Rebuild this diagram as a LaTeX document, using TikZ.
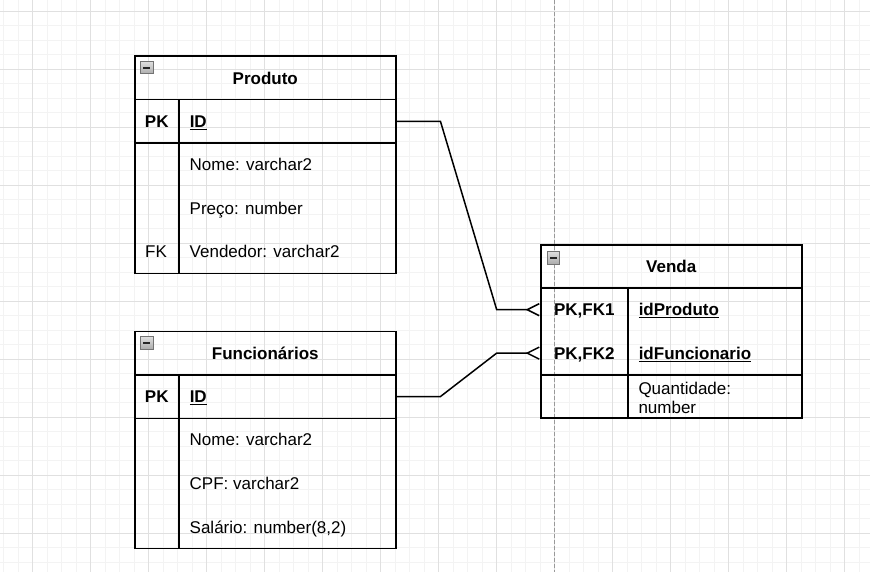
\documentclass[tikz,border=0pt]{standalone}
\usepackage{fontspec}
\setmainfont{Liberation Sans}
\usetikzlibrary{arrows.meta}
\definecolor{gridminor}{HTML}{F3F3F3}
\definecolor{gridmajor}{HTML}{E0E0E0}
\newcommand{\tabfont}{\fontsize{17}{20}\selectfont}
\tikzset{
  cellbox/.style={draw, line width=1.5pt, inner sep=0pt, anchor=north west,
    font=\tabfont, text height=12.4pt, text depth=0pt},
  headbox/.style={cellbox, font=\tabfont\bfseries, minimum width=261, minimum height=43.5},
  rowbox/.style={cellbox, draw=none},
  leftcell/.style={text width=#1, align=left, inner xsep=11pt},
  fieldtext/.style={anchor=base west, inner sep=0pt, font=\tabfont},
  keytext/.style={anchor=base, inner sep=0pt, font=\tabfont},
  iconbox/.style={draw=gray!90!black, line width=1pt, top color=gray!25, bottom color=gray!65,
    minimum size=12.5pt, inner sep=0pt, anchor=north west,
    path picture={\draw[line width=1.6pt, black!85]
      ([xshift=2.8pt]path picture bounding box.west) -- ([xshift=-2.8pt]path picture bounding box.east);}},
  relline/.style={line width=1.5pt, -{Straight Barb[reversed, length=12pt, width=12pt, line width=1.5pt]}},
}
\begin{document}
\begin{tikzpicture}[x=1pt, y=-1pt]
  \useasboundingbox (0,0) rectangle (870,572);
  % grade de fundo
  \foreach \i in {0,...,59}
    \draw[gridminor, line width=0.8pt] ({3.7+14.5*\i},0) -- ({3.7+14.5*\i},572);
  \foreach \i in {0,...,38}
    \draw[gridminor, line width=0.8pt] (0,{11.3+14.5*\i}) -- (870,{11.3+14.5*\i});
  \foreach \i in {0,...,14}
    \draw[gridmajor, line width=0.9pt] ({32.7+58*\i},0) -- ({32.7+58*\i},572);
  \foreach \i in {0,...,9}
    \draw[gridmajor, line width=0.9pt] (0,{11.3+58*\i}) -- (870,{11.3+58*\i});
  \draw[gray!80, line width=1pt, dash pattern=on 4pt off 2pt] (554.3,0) -- (554.3,572);

  % Produto
  \node[headbox] (prodHead) at (134,55.5) {Produto};
  \node[iconbox] (prodIcon) at (140,61) {};
  \node[cellbox, font=\tabfont\bfseries, minimum width=44, minimum height=43.5] (prodPK) at (134,99) {PK};
  \node[cellbox, font=\tabfont\bfseries, leftcell=195pt, minimum height=43.5] (prodID) at (178,99) {\underline{ID}};
  \node[cellbox, minimum width=44, minimum height=130] (prodKeys) at (134,142.5) {};
  \node[cellbox, minimum width=217, minimum height=130] (prodFields) at (178,142.5) {};
  \node[fieldtext] (prodNome) at (189.5,170.7) {Nome: varchar2};
  \node[fieldtext] (prodPreco) at (189.5,214.2) {Preço: number};
  \node[fieldtext] (prodVend) at (189.5,257.7) {Vendedor: varchar2};
  \node[keytext] (prodFK) at (156,257.7) {FK};

  % Funcionários
  \node[headbox] (funcHead) at (134,330.5) {Funcionários};
  \node[iconbox] (funcIcon) at (140,336) {};
  \node[cellbox, font=\tabfont\bfseries, minimum width=44, minimum height=43.5] (funcPK) at (134,374) {PK};
  \node[cellbox, font=\tabfont\bfseries, leftcell=195pt, minimum height=43.5] (funcID) at (178,374) {\underline{ID}};
  \node[cellbox, minimum width=44, minimum height=130] (funcKeys) at (134,417.5) {};
  \node[cellbox, minimum width=217, minimum height=130] (funcFields) at (178,417.5) {};
  \node[fieldtext] (funcNome) at (189.5,445.8) {Nome: varchar2};
  \node[fieldtext] (funcCPF) at (189.5,489.5) {CPF: varchar2};
  \node[fieldtext] (funcSal) at (189.5,533.2) {Salário: number(8,2)};

  % Venda
  \node[headbox] (vendaHead) at (540,244) {Venda};
  \node[iconbox] (vendaIcon) at (546.5,251) {};
  \node[cellbox, minimum width=87, minimum height=86.7] (vendaKeys) at (540,287.3) {};
  \node[cellbox, minimum width=174, minimum height=86.7] (vendaFields) at (627,287.3) {};
  \node[rowbox, font=\tabfont\bfseries, minimum width=87, minimum height=43.3] (vendaK1) at (540,287.3) {PK,FK1};
  \node[rowbox, font=\tabfont\bfseries, minimum width=87, minimum height=43.3] (vendaK2) at (540,330.7) {PK,FK2};
  \node[rowbox, font=\tabfont\bfseries, leftcell=152pt, minimum height=43.3] (vendaProd) at (627,287.3) {\underline{idProduto}};
  \node[rowbox, font=\tabfont\bfseries, leftcell=152pt, minimum height=43.3] (vendaFunc) at (627,330.7) {\underline{idFuncionario}};
  \node[cellbox, minimum width=87, minimum height=43.3] (vendaQKey) at (540,374) {};
  \node[cellbox, minimum width=174, minimum height=43.3] (vendaQtd) at (627,374) {};
  \node[fieldtext] (vendaQtd1) at (638.3,394) {Quantidade:};
  \node[fieldtext] (vendaQtd2) at (638.3,413.3) {number};

  % relacionamentos
  \draw[relline] (prodID.east) -- ++(44,0) -- ([xshift=-43.3pt]vendaK1.west) -- (vendaK1.west);
  \draw[relline] (funcID.east) -- ++(44,0) -- ([xshift=-43.3pt]vendaK2.west) -- (vendaK2.west);
\end{tikzpicture}
\end{document}
